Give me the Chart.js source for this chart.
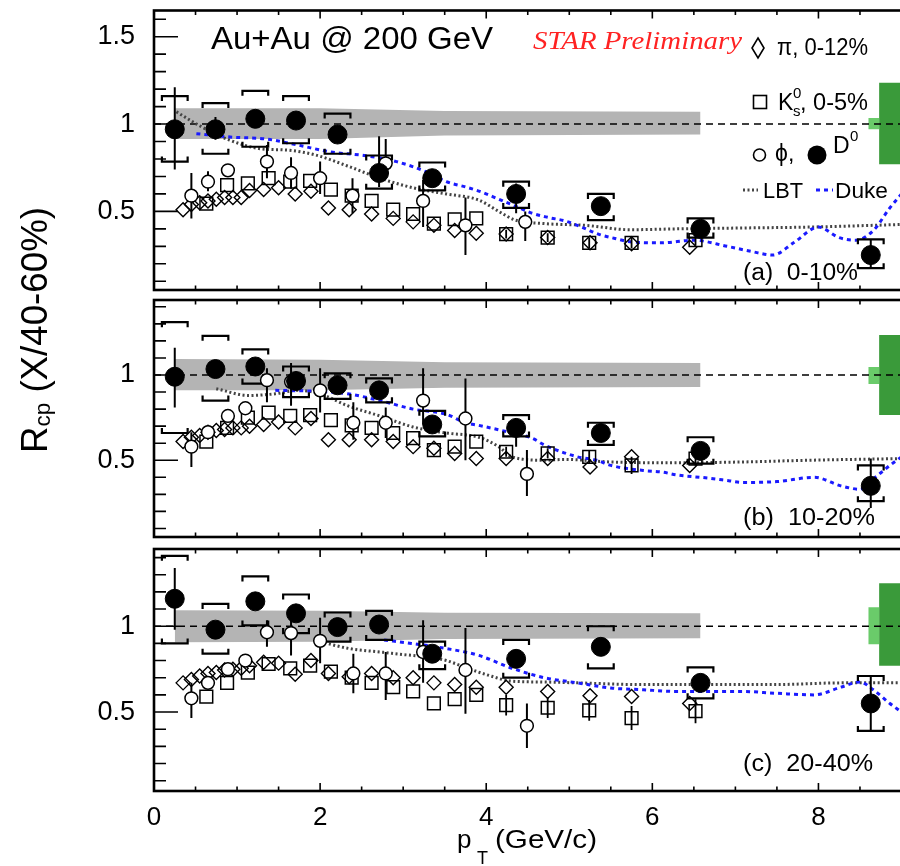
<!DOCTYPE html>
<html><head><meta charset="utf-8">
<script src="https://cdn.jsdelivr.net/npm/chart.js@4.4.1/dist/chart.umd.min.js"></script>
<style>
html,body{margin:0;padding:0;background:#fff;}
#wrap{position:relative;width:900px;height:866px;overflow:hidden;background:#fff;}
#wrap canvas{position:absolute;left:0;top:0;}
</style></head><body>
<div id="wrap">
<canvas id="pa" width="912" height="866"></canvas>
<canvas id="pb" width="912" height="866"></canvas>
<canvas id="pc" width="912" height="866"></canvas>
</div>
<script>
// ---------- tick labels ----------
const xTicks = [0, 2, 4, 6, 8];
const yTicksA = [0.5, 1, 1.5];
const yTicksBC = [0.5, 1];

// ---------- D0 ----------
const d0X = [0.25, 0.74, 1.22, 1.71, 2.21, 2.71, 3.35, 4.36, 5.38, 6.58, 8.63];
const d0A = [0.97, 0.97, 1.03, 1.02, 0.94, 0.72, 0.69, 0.60, 0.53, 0.40, 0.25];
const d0AStatLo = [0.74, 0.91, 1.00, 0.99, 0.91, 0.64, 0.67, 0.49, 0.51, 0.38, 0.175];
const d0AStatHi = [1.21, 1.04, 1.06, 1.05, 0.97, 0.93, 0.71, 0.66, 0.55, 0.42, 0.34];
const d0ASysLo = [0.785, 0.83, 0.87, 0.89, 0.83, 0.63, 0.62, 0.52, 0.45, 0.35, 0.175];
const d0ASysHi = [1.16, 1.12, 1.19, 1.16, 1.06, 0.82, 0.78, 0.67, 0.60, 0.46, 0.34];

const d0B = [0.99, 1.035, 1.05, 0.965, 0.94, 0.91, 0.71, 0.69, 0.66, 0.555, 0.35];
const d0BStatLo = [0.81, 0.99, 1.02, 0.94, 0.92, 0.89, 0.69, 0.58, 0.64, 0.53, 0.22];
const d0BStatHi = [1.16, 1.07, 1.08, 0.99, 0.96, 0.93, 0.73, 0.71, 0.68, 0.58, 0.51];
const d0BSysLo = [0.66, 0.85, 0.95, 0.87, 0.86, 0.84, 0.64, 0.64, 0.59, 0.48, 0.26];
const d0BSysHi = [1.31, 1.23, 1.15, 1.05, 1.01, 0.98, 0.79, 0.765, 0.72, 0.635, 0.47];

const d0C = [1.16, 0.98, 1.145, 1.075, 0.995, 1.01, 0.84, 0.81, 0.88, 0.67, 0.55];
const d0CStatLo = [0.98, 0.95, 1.12, 1.05, 0.97, 0.99, 0.82, 0.79, 0.85, 0.64, 0.395];
const d0CStatHi = [1.34, 1.01, 1.17, 1.10, 1.02, 1.03, 0.86, 0.83, 0.93, 0.70, 0.715];
const d0CSysLo = [0.90, 0.84, 1.005, 0.96, 0.91, 0.92, 0.75, 0.70, 0.755, 0.58, 0.39];
const d0CSysHi = [1.41, 1.13, 1.29, 1.185, 1.08, 1.09, 0.91, 0.92, 1.0, 0.76, 0.71];

// ---------- pi ----------
const piX = [0.35, 0.45, 0.55, 0.65, 0.75, 0.85, 0.95, 1.05, 1.15, 1.32, 1.50, 1.70, 1.89, 2.10, 2.35, 2.62, 2.88, 3.12, 3.37, 3.62, 3.88, 4.24, 4.74, 5.25, 5.75, 6.45];
const piA = [0.51, 0.54, 0.55, 0.56, 0.57, 0.58, 0.58, 0.58, 0.62, 0.625, 0.635, 0.60, 0.615, 0.52, 0.51, 0.485, 0.46, 0.44, 0.42, 0.39, 0.375, 0.37, 0.35, 0.32, 0.315, 0.295];
const piB = [0.61, 0.635, 0.645, 0.665, 0.675, 0.68, 0.69, 0.69, 0.70, 0.71, 0.725, 0.69, 0.745, 0.62, 0.62, 0.62, 0.61, 0.58, 0.57, 0.54, 0.51, 0.51, 0.51, 0.46, 0.52, 0.47];
const piC = [0.67, 0.69, 0.71, 0.725, 0.73, 0.745, 0.75, 0.755, 0.77, 0.79, 0.785, 0.72, 0.80, 0.725, 0.705, 0.725, 0.70, 0.70, 0.67, 0.66, 0.645, 0.645, 0.62, 0.595, 0.59, 0.55];

// ---------- K0s ----------
const kX = [0.63, 0.88, 1.13, 1.38, 1.64, 1.88, 2.13, 2.38, 2.62, 2.88, 3.12, 3.37, 3.62, 3.88, 4.24, 4.74, 5.24, 5.75, 6.52];
const kA = [0.545, 0.65, 0.66, 0.69, 0.67, 0.675, 0.625, 0.59, 0.56, 0.51, 0.485, 0.43, 0.455, 0.46, 0.37, 0.35, 0.32, 0.32, 0.335];
const kB = [0.61, 0.69, 0.75, 0.78, 0.76, 0.765, 0.735, 0.705, 0.69, 0.66, 0.63, 0.56, 0.58, 0.61, 0.55, 0.54, 0.52, 0.47, 0.51];
const kC = [0.59, 0.67, 0.73, 0.78, 0.755, 0.77, 0.735, 0.70, 0.67, 0.645, 0.62, 0.55, 0.575, 0.60, 0.54, 0.525, 0.51, 0.465, 0.505];
const kErrA = [0,0,0,0,0,0,0,0,0,0,0,0,0,0,0.025,0.025,0.03,0.03,0.03];
const kErrB = [0,0,0,0,0,0,0,0,0,0,0,0,0,0,0.03,0.03,0.04,0.05,0.04];
const kErrC = [0,0,0,0,0,0,0,0,0,0,0,0,0,0,0.06,0.06,0.06,0.07,0.07];

// ---------- phi ----------
const phiXA = [0.45, 0.65, 0.89, 1.36, 1.65, 2.0, 2.39, 2.79, 3.24, 3.75, 4.47];
const phiA = [0.59, 0.67, 0.735, 0.785, 0.72, 0.69, 0.59, 0.775, 0.56, 0.42, 0.44];
const phiALo = [0.46, 0.615, 0.71, 0.69, 0.63, 0.60, 0.49, 0.70, 0.41, 0.25, 0.33];
const phiAHi = [0.72, 0.73, 0.76, 0.88, 0.81, 0.785, 0.69, 0.915, 0.68, 0.58, 0.50];
const phiXBC = [0.45, 0.65, 0.89, 1.10, 1.36, 1.65, 2.0, 2.40, 2.79, 3.24, 3.75, 4.49];
const phiB = [0.58, 0.665, 0.76, 0.805, 0.97, 0.96, 0.91, 0.72, 0.72, 0.85, 0.745, 0.42];
const phiBLo = [0.46, 0.64, 0.74, 0.78, 0.84, 0.82, 0.78, 0.62, 0.63, 0.71, 0.50, 0.29];
const phiBHi = [0.665, 0.69, 0.78, 0.84, 1.04, 1.07, 1.04, 0.84, 0.81, 1.04, 0.98, 0.56];
const phiC = [0.58, 0.67, 0.75, 0.80, 0.965, 0.96, 0.915, 0.725, 0.725, 0.85, 0.745, 0.42];
const phiCLo = [0.465, 0.64, 0.73, 0.78, 0.88, 0.83, 0.785, 0.61, 0.57, 0.67, 0.49, 0.29];
const phiCHi = [0.67, 0.70, 0.77, 0.83, 1.035, 1.05, 1.05, 0.84, 0.85, 1.035, 0.99, 0.55];

// ---------- model curves ----------
const lbtAX = [0.27, 0.55, 0.9, 1.26, 1.62, 1.93, 2.33, 2.72, 3.12, 3.52, 3.91, 4.15, 4.35, 4.7, 5.2, 5.73, 6.3, 7.08, 7.87, 9.0];
const lbtAY = [1.07, 0.99, 0.91, 0.86, 0.85, 0.825, 0.76, 0.69, 0.635, 0.60, 0.565, 0.50, 0.45, 0.43, 0.42, 0.395, 0.40, 0.405, 0.41, 0.425];
const dukeAX = [0.51, 0.94, 1.34, 1.73, 2.13, 2.53, 2.92, 3.31, 3.52, 3.75, 3.95, 4.15, 4.35, 4.55, 4.75, 4.95, 5.15, 5.35, 5.55, 5.75, 6.1, 6.5, 6.9, 7.2, 7.45, 7.7, 8.0, 8.25, 8.45, 8.66, 8.86, 9.0];
const dukeAY = [0.945, 0.925, 0.915, 0.88, 0.84, 0.82, 0.785, 0.72, 0.67, 0.64, 0.61, 0.57, 0.53, 0.49, 0.465, 0.445, 0.41, 0.37, 0.345, 0.325, 0.32, 0.335, 0.30, 0.27, 0.25, 0.32, 0.41, 0.35, 0.335, 0.39, 0.52, 0.6];
const lbtBX = [0.75, 1.14, 1.46, 1.73, 2.0, 2.33, 2.72, 3.12, 3.52, 3.91, 4.15, 4.31, 4.7, 4.94, 5.5, 6.3, 7.08, 7.87, 9.0];
const lbtBY = [0.92, 0.88, 0.89, 0.91, 0.89, 0.82, 0.76, 0.695, 0.66, 0.635, 0.58, 0.52, 0.50, 0.505, 0.49, 0.485, 0.49, 0.50, 0.51];
const dukeBX = [1.46, 1.93, 2.33, 2.72, 3.12, 3.52, 3.75, 3.91, 4.31, 4.55, 4.7, 5.1, 5.33, 5.5, 5.89, 6.13, 6.28, 6.68, 6.92, 7.08, 7.5, 7.95, 8.27, 8.5, 8.66, 8.86, 9.0];
const dukeBY = [0.91, 0.905, 0.89, 0.85, 0.80, 0.77, 0.72, 0.705, 0.66, 0.63, 0.59, 0.52, 0.50, 0.47, 0.44, 0.43, 0.415, 0.395, 0.38, 0.37, 0.375, 0.40, 0.35, 0.33, 0.39, 0.47, 0.52];
const lbtCX = [2.0, 2.35, 2.72, 3.0, 3.31, 3.52, 3.75, 3.99, 4.31, 4.7, 5.1, 5.89, 6.68, 7.47, 8.27, 9.0];
const lbtCY = [0.91, 0.87, 0.85, 0.835, 0.82, 0.80, 0.76, 0.72, 0.68, 0.675, 0.67, 0.66, 0.66, 0.66, 0.67, 0.67];
const dukeCX = [2.77, 3.1, 3.52, 3.91, 4.31, 4.7, 5.1, 5.5, 5.89, 6.28, 6.68, 7.08, 7.47, 7.95, 8.27, 8.5, 8.66, 8.86, 9.0];
const dukeCY = [0.92, 0.90, 0.87, 0.83, 0.755, 0.70, 0.67, 0.64, 0.63, 0.62, 0.62, 0.62, 0.61, 0.60, 0.645, 0.675, 0.63, 0.55, 0.50];

// ---------- reference line, uncertainty bands, normalisation boxes ----------
const unityX = [0, 9];
const unityY = [1, 1];
const bandX = [0.25, 2, 3.5, 6.58];
const bandHiA = [1.09, 1.09, 1.075, 1.07];
const bandLoA = [0.915, 0.915, 0.935, 0.94];
const bandHiB = [1.094, 1.09, 1.075, 1.07];
const bandLoB = [0.91, 0.91, 0.925, 0.93];
const bandHiC = [1.093, 1.09, 1.078, 1.075];
const bandLoC = [0.907, 0.91, 0.925, 0.93];
const normDarkX = [8.73, 9.3];
const normLightX = [8.6, 8.73];
const normDarkA = [0.77, 1.237];
const normLightA = [0.97, 1.034];
const normDarkB = [0.765, 1.235];
const normLightB = [0.947, 1.047];
const normDarkC = [0.77, 1.25];
const normLightC = [0.895, 1.11];

// =====================================================================
const SANS = '"Liberation Sans", Arial, Helvetica, sans-serif';
const SERIF = '"Liberation Serif", "Times New Roman", serif';

function pts(xs, ys) { return xs.map((x, i) => ({x: x, y: ys[i]})); }

function curve(xs, ys, color, width, dash) {
  return {data: pts(xs, ys), showLine: true, borderColor: color, borderWidth: width, borderDash: dash,
          pointRadius: 0, fill: false, cubicInterpolationMode: 'monotone', borderCapStyle: 'butt'};
}
function bandPair(xs, lo, hi, color) {
  return [
    {data: pts(xs, hi), showLine: true, borderWidth: 0, borderColor: 'rgba(0,0,0,0)', backgroundColor: color, pointRadius: 0, fill: '+1', tension: 0},
    {data: pts(xs, lo), showLine: true, borderWidth: 0, borderColor: 'rgba(0,0,0,0)', pointRadius: 0, fill: false, tension: 0}
  ];
}
function boxPair(xs, range, color) {
  return bandPair(xs, [range[0], range[0]], [range[1], range[1]], color);
}

function txt(ctx, s, x, y, size, width, o) {
  o = o || {};
  ctx.save();
  ctx.font = (o.italic ? 'italic ' : '') + size + 'px ' + (o.family || SANS);
  ctx.fillStyle = o.color || '#000';
  ctx.textBaseline = 'alphabetic';
  ctx.textAlign = 'left';
  ctx.translate(x, y);
  if (width) { const w = ctx.measureText(s).width; ctx.scale(width / w, 1); }
  ctx.fillText(s, 0, 0);
  ctx.restore();
}
function rich(ctx, parts, x, y, width, rot) {
  ctx.save();
  ctx.translate(x, y);
  if (rot) ctx.rotate(rot);
  ctx.fillStyle = '#000';
  ctx.textBaseline = 'alphabetic';
  ctx.textAlign = 'left';
  let tot = 0;
  const ws = parts.map(p => { ctx.font = p.size + 'px ' + SANS; const w = ctx.measureText(p.t).width; tot += w; return w; });
  if (width) ctx.scale(width / tot, 1);
  let cx = 0;
  parts.forEach((p, i) => { ctx.font = p.size + 'px ' + SANS; ctx.fillText(p.t, cx, p.dy || 0); cx += ws[i]; });
  ctx.restore();
}

function frameTicksPlugin() {
  return {
    id: 'frameTicks',
    afterDatasetsDraw(chart) {
      const ctx = chart.ctx, a = chart.chartArea, x = chart.scales.x, y = chart.scales.y;
      ctx.save();
      ctx.strokeStyle = '#000';
      ctx.lineWidth = 1.6;
      ctx.beginPath();
      for (let k = 0; k <= 18; k++) {
        const v = k * 0.5;
        const px = x.getPixelForValue(v);
        const len = (k % 4 === 0) ? 8 : 4.5;
        ctx.moveTo(px, a.bottom); ctx.lineTo(px, a.bottom - len);
        ctx.moveTo(px, a.top); ctx.lineTo(px, a.top + len);
      }
      const k0 = Math.ceil(y.min * 10 - 1e-6), k1 = Math.floor(y.max * 10 + 1e-6);
      for (let k = k0; k <= k1; k++) {
        const py = y.getPixelForValue(k / 10);
        const len = (k % 5 === 0) ? 24 : 12;
        ctx.moveTo(a.left, py); ctx.lineTo(a.left + len, py);
      }
      ctx.stroke();
      ctx.lineWidth = 2.6;
      ctx.strokeRect(a.left, a.top, a.right - a.left, a.bottom - a.top);
      ctx.restore();
    }
  };
}

function errPlugin(after, sets) {
  return {
    id: 'errBars',
    afterDatasetDraw(chart, args) {
      if (args.index !== after) return;
      const ctx = chart.ctx, a = chart.chartArea, x = chart.scales.x, y = chart.scales.y;
      ctx.save();
      ctx.beginPath(); ctx.rect(a.left, a.top, a.right - a.left, a.bottom - a.top); ctx.clip();
      ctx.strokeStyle = '#000';
      ctx.lineCap = 'butt';
      sets.forEach(s => {
        const data = chart.data.datasets[s.ds].data;
        ctx.lineWidth = s.lw;
        data.forEach((p, i) => {
          const lo = s.lo[i], hi = s.hi[i];
          if (lo == null || hi == null || hi - lo < 1e-6) return;
          const px = x.getPixelForValue(p.x), pl = y.getPixelForValue(lo), ph = y.getPixelForValue(hi);
          ctx.beginPath();
          if (s.bracket) {
            const hw = x.getPixelForValue(p.x + s.bracket) - px, t = 5;
            ctx.moveTo(px - hw, ph + t); ctx.lineTo(px - hw, ph); ctx.lineTo(px + hw, ph); ctx.lineTo(px + hw, ph + t);
            ctx.moveTo(px - hw, pl - t); ctx.lineTo(px - hw, pl); ctx.lineTo(px + hw, pl); ctx.lineTo(px + hw, pl - t);
          } else {
            ctx.moveTo(px, pl); ctx.lineTo(px, ph);
          }
          ctx.stroke();
        });
      });
      ctx.restore();
    }
  };
}

function annotPlugin(fn) { return {id: 'annot', afterDraw(chart) { fn(chart.ctx); }}; }

function makePanel(id, p) {
  const kLo = p.k.map((v, i) => v - p.kErr[i]);
  const kHi = p.k.map((v, i) => v + p.kErr[i]);
  const datasets = [
    {data: pts(d0X, p.d0), showLine: false, pointStyle: 'circle', pointRadius: 9.5, pointBackgroundColor: '#000', pointBorderColor: '#000', pointBorderWidth: 1},
    {data: pts(p.phiX, p.phi), showLine: false, pointStyle: 'circle', pointRadius: 6.4, pointBackgroundColor: '#fff', pointBorderColor: '#000', pointBorderWidth: 1.5},
    {data: pts(kX, p.k), showLine: false, pointStyle: 'rect', pointRadius: 9, pointBackgroundColor: 'rgba(0,0,0,0)', pointBorderColor: '#000', pointBorderWidth: 1.5},
    {data: pts(piX, p.pi), showLine: false, pointStyle: 'rectRot', pointRadius: 7, pointBackgroundColor: 'rgba(0,0,0,0)', pointBorderColor: '#000', pointBorderWidth: 1.4},
    curve(p.dukeX, p.dukeY, '#1a1aff', 3, [4, 4]),
    curve(p.lbtX, p.lbtY, '#444444', 3, [2, 2.5]),
    {data: pts(unityX, unityY), showLine: true, borderColor: '#000', borderWidth: 1.6, borderDash: [7, 5], pointRadius: 0, fill: false, tension: 0},
  ].concat(bandPair(bandX, p.bandLo, p.bandHi, '#b4b4b4'))
   .concat(boxPair(normDarkX, p.normDark, '#3a9a3a'))
   .concat(boxPair(normLightX, p.normLight, '#6acb6a'));

  const errSets = [
    {ds: 0, lo: p.d0StatLo, hi: p.d0StatHi, lw: 2},
    {ds: 0, lo: p.d0SysLo, hi: p.d0SysHi, lw: 2.2, bracket: 0.155},
    {ds: 1, lo: p.phiLo, hi: p.phiHi, lw: 2},
    {ds: 2, lo: kLo, hi: kHi, lw: 1.8}
  ];

  const tickFont = {family: SANS, size: 27};
  return new Chart(document.getElementById(id), {
    type: 'line',
    data: {datasets: datasets},
    options: {
      responsive: false, animation: false, devicePixelRatio: 1, events: [],
      layout: {padding: {top: p.top, bottom: p.padBottom, left: 0, right: 0}},
      plugins: {legend: {display: false}, tooltip: {enabled: false}},
      scales: {
        x: {type: 'linear', min: 0, max: 9,
            grid: {display: false, drawTicks: false}, border: {display: false},
            ticks: {display: p.showX, font: {family: SANS, size: 26}, color: '#000', padding: 11, maxRotation: 0, callback: v => String(v)},
            afterBuildTicks: s => { s.ticks = xTicks.map(v => ({value: v})); },
            afterFit: s => { s.height = p.xH; s.paddingLeft = 0; s.paddingRight = 0; }},
        y: {type: 'linear', min: p.ymin, max: p.ymax,
            grid: {display: false, drawTicks: false}, border: {display: false},
            ticks: {font: tickFont, color: '#000', padding: 19, callback: v => String(v)},
            afterBuildTicks: s => { s.ticks = p.yTicks.map(v => ({value: v})); },
            afterFit: s => { s.width = 154; s.paddingTop = 0; s.paddingBottom = 0; }}
      }
    },
    plugins: [errPlugin(4, errSets), frameTicksPlugin(), annotPlugin(p.annot)]
  });
}

function legendA(ctx) {
  txt(ctx, 'Au+Au @ 200 GeV', 211, 49, 31, 282);
  txt(ctx, 'STAR Preliminary', 533, 49, 26, 209, {italic: true, family: SERIF, color: '#ff2222'});
  ctx.save();
  ctx.strokeStyle = '#000'; ctx.lineWidth = 1.6;
  ctx.beginPath(); ctx.moveTo(758, 38); ctx.lineTo(764, 48); ctx.lineTo(758, 58); ctx.lineTo(752, 48); ctx.closePath(); ctx.stroke();
  ctx.strokeRect(753.5, 95.5, 13, 13);
  ctx.beginPath(); ctx.arc(759.5, 155, 6, 0, Math.PI * 2); ctx.stroke();
  ctx.fillStyle = '#000';
  ctx.beginPath(); ctx.arc(817, 155, 9.5, 0, Math.PI * 2); ctx.fill();
  ctx.lineWidth = 3;
  ctx.strokeStyle = '#444444'; ctx.setLineDash([2, 2.5]);
  ctx.beginPath(); ctx.moveTo(743, 190); ctx.lineTo(758, 190); ctx.stroke();
  ctx.strokeStyle = '#1a1aff'; ctx.setLineDash([4, 4]);
  ctx.beginPath(); ctx.moveTo(816, 190); ctx.lineTo(833, 190); ctx.stroke();
  ctx.restore();
  txt(ctx, 'π, 0-12%', 777, 55, 23, 91);
  txt(ctx, 'K', 778, 110, 23);
  txt(ctx, '0', 793, 98, 15);
  txt(ctx, 's', 793, 116, 15);
  txt(ctx, ', 0-5%', 800, 110, 23, 68);
  txt(ctx, 'ϕ,', 775, 161, 23);
  txt(ctx, 'D', 833, 153, 23);
  txt(ctx, '0', 850, 141, 15);
  txt(ctx, 'LBT', 763, 198, 22, 40);
  txt(ctx, 'Duke', 835, 198, 22, 53);
  txt(ctx, '(a)  0-10%', 743, 280, 23, 115);
}
function annotB(ctx) {
  txt(ctx, '(b)  10-20%', 743, 525, 23, 132);
  rich(ctx, [{t: 'R', size: 36}, {t: 'cp', size: 22, dy: 3}, {t: ' (X/40-60%)', size: 36}], 47, 453, 246, -Math.PI / 2);
}
function annotC(ctx) {
  txt(ctx, '(c)  20-40%', 743, 771, 23, 130);
  txt(ctx, 'p', 457, 848, 26);
  txt(ctx, 'T', 477, 864, 18);
  txt(ctx, '(GeV/c)', 495, 848, 26, 102);
}

makePanel('pa', {top: 7, padBottom: 866 - 290, xH: 0, showX: false, ymin: 0.05, ymax: 1.65, yTicks: yTicksA,
  d0: d0A, d0StatLo: d0AStatLo, d0StatHi: d0AStatHi, d0SysLo: d0ASysLo, d0SysHi: d0ASysHi,
  pi: piA, k: kA, kErr: kErrA, phiX: phiXA, phi: phiA, phiLo: phiALo, phiHi: phiAHi,
  lbtX: lbtAX, lbtY: lbtAY, dukeX: dukeAX, dukeY: dukeAY,
  bandLo: bandLoA, bandHi: bandHiA, normDark: normDarkA, normLight: normLightA, annot: legendA});
makePanel('pb', {top: 300, padBottom: 866 - 537, xH: 0, showX: false, ymin: 0.05, ymax: 1.44, yTicks: yTicksBC,
  d0: d0B, d0StatLo: d0BStatLo, d0StatHi: d0BStatHi, d0SysLo: d0BSysLo, d0SysHi: d0BSysHi,
  pi: piB, k: kB, kErr: kErrB, phiX: phiXBC, phi: phiB, phiLo: phiBLo, phiHi: phiBHi,
  lbtX: lbtBX, lbtY: lbtBY, dukeX: dukeBX, dukeY: dukeBY,
  bandLo: bandLoB, bandHi: bandHiB, normDark: normDarkB, normLight: normLightB, annot: annotB});
makePanel('pc', {top: 549, padBottom: 0, xH: 75, showX: true, ymin: 0.04, ymax: 1.45, yTicks: yTicksBC,
  d0: d0C, d0StatLo: d0CStatLo, d0StatHi: d0CStatHi, d0SysLo: d0CSysLo, d0SysHi: d0CSysHi,
  pi: piC, k: kC, kErr: kErrC, phiX: phiXBC, phi: phiC, phiLo: phiCLo, phiHi: phiCHi,
  lbtX: lbtCX, lbtY: lbtCY, dukeX: dukeCX, dukeY: dukeCY,
  bandLo: bandLoC, bandHi: bandHiC, normDark: normDarkC, normLight: normLightC, annot: annotC});
</script>
</body></html>
